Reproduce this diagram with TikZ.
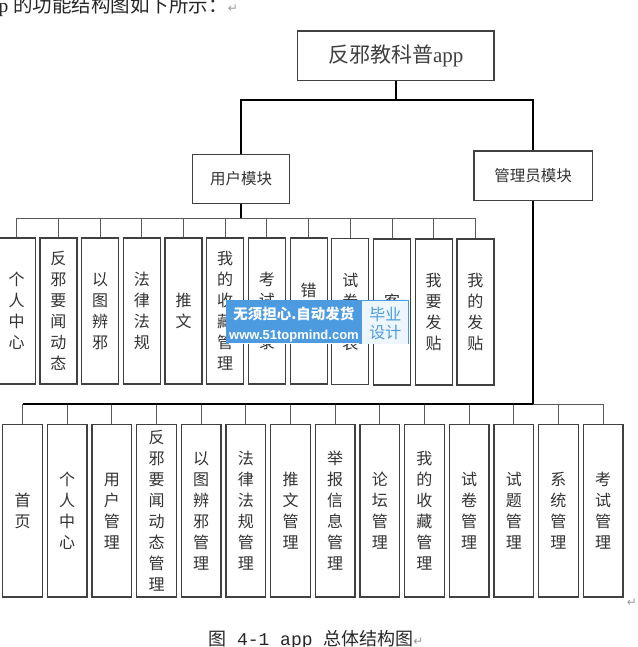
\documentclass[tikz,border=0pt]{standalone}
\usepackage{fontspec}
\newfontfamily\cjk{Noto Sans CJK SC}
\newfontfamily\lserif{Liberation Serif}
\newfontfamily\lmono{Liberation Mono}
\newfontfamily\lsans{Liberation Sans}
\newfontfamily\djv{DejaVu Sans}
\newcommand{\retmark}{{\djv\color{black!40}\fontsize{12}{12}\selectfont ↵}}
\definecolor{wmblue}{HTML}{4C9BE0}
\definecolor{wmlight}{HTML}{EEF6FD}
\tikzset{
  fbox/.style={draw=black!75,line width=1.2pt,fill=white,inner sep=0pt,align=center,text=black!80,font=\cjk\fontsize{16}{21}\selectfont},
  ubox/.style={fbox,minimum width=37pt,minimum height=146pt},
  abox/.style={fbox,minimum width=39.6pt,minimum height=172.3pt},
  mbox/.style={fbox,font=\cjk\fontsize{15.5}{18}\selectfont},
  thickline/.style={line width=2pt,black},
  thinline/.style={line width=1pt,black!65},
}
\begin{document}
\begin{tikzpicture}[x=1pt,y=-1pt]
\useasboundingbox (0,0) rectangle (637,647);
\node[anchor=base west,inner sep=0pt,text=black!85] (intro) at (-1.5,12.5) {{\lserif\fontsize{19.5}{20}\selectfont p\ }{\cjk\fontsize{19.5}{20}\selectfont 的功能结构图如下所示：}\retmark};
\node[fbox,minimum width=196.7pt,minimum height=49.3pt,text=black!75,font=\cjk\fontsize{21}{24}\selectfont] (app) at (395.7,55.6) {反邪教科普{\lserif app}};
\node[mbox,minimum width=96.6pt,minimum height=48.6pt] (user) at (241,179) {用户模块};
\node[mbox,minimum width=118.3pt,minimum height=49.3pt] (admin) at (533.2,175.7) {管理员模块};
\node[ubox] (u1) at (16.7,311) {个\\人\\中\\心};
\node[ubox] (u2) at (58.4,311) {反\\邪\\要\\闻\\动\\态};
\node[ubox] (u3) at (100.1,311) {以\\图\\辨\\邪};
\node[ubox] (u4) at (141.8,311) {法\\律\\法\\规};
\node[ubox] (u5) at (183.5,311) {推\\文};
\node[ubox] (u6) at (225.2,311) {我\\的\\收\\藏\\管\\理};
\node[ubox] (u7) at (266.9,311) {考\\试\\记\\录};
\node[ubox] (u8) at (308.6,311) {错\\题\\本};
\node[ubox] (u9) at (350.3,311.5) {试\\卷\\列\\表};
\node[ubox] (u10) at (392.0,312) {客\\服};
\node[ubox] (u11) at (433.7,312) {我\\要\\发\\贴};
\node[ubox] (u12) at (475.4,312) {我\\的\\发\\贴};
\node[abox] (a1) at (22.5,510.9) {首\\页};
\node[abox] (a2) at (67.2,510.9) {个\\人\\中\\心};
\node[abox] (a3) at (111.8,510.9) {用\\户\\管\\理};
\node[abox] (a4) at (156.5,510.9) {反\\邪\\要\\闻\\动\\态\\管\\理};
\node[abox] (a5) at (201.1,510.9) {以\\图\\辨\\邪\\管\\理};
\node[abox] (a6) at (245.8,510.9) {法\\律\\法\\规\\管\\理};
\node[abox] (a7) at (290.5,510.9) {推\\文\\管\\理};
\node[abox] (a8) at (335.1,510.9) {举\\报\\信\\息\\管\\理};
\node[abox] (a9) at (379.8,510.9) {论\\坛\\管\\理};
\node[abox] (a10) at (424.4,510.9) {我\\的\\收\\藏\\管\\理};
\node[abox] (a11) at (469.1,510.9) {试\\卷\\管\\理};
\node[abox] (a12) at (513.8,510.9) {试\\题\\管\\理};
\node[abox] (a13) at (558.4,510.9) {系\\统\\管\\理};
\node[abox] (a14) at (603.1,510.9) {考\\试\\管\\理};
\coordinate (ubus) at (241,218.3);
\coordinate (abus) at (533.2,404.3);
\draw[thinline] (ubus) -| (u1.north);
\draw[thinline] (ubus) -| (u2.north);
\draw[thinline] (ubus) -| (u3.north);
\draw[thinline] (ubus) -| (u4.north);
\draw[thinline] (ubus) -| (u5.north);
\draw[thinline] (ubus) -| (u6.north);
\draw[thinline] (ubus) -| (u7.north);
\draw[thinline] (ubus) -| (u8.north);
\draw[thinline] (ubus) -| (u9.north);
\draw[thinline] (ubus) -| (u10.north);
\draw[thinline] (ubus) -| (u11.north);
\draw[thinline] (ubus) -| (u12.north);
\draw[thinline] (abus) -| (a1.north);
\draw[thinline] (abus) -| (a2.north);
\draw[thinline] (abus) -| (a3.north);
\draw[thinline] (abus) -| (a4.north);
\draw[thinline] (abus) -| (a5.north);
\draw[thinline] (abus) -| (a6.north);
\draw[thinline] (abus) -| (a7.north);
\draw[thinline] (abus) -| (a8.north);
\draw[thinline] (abus) -| (a9.north);
\draw[thinline] (abus) -| (a10.north);
\draw[thinline] (abus) -| (a11.north);
\draw[thinline] (abus) -| (a12.north);
\draw[thinline] (abus) -| (a13.north);
\draw[thinline] (abus) -| (a14.north);
\draw[thickline] (app.south) -- ++(0,19) -| (user.north);
\draw[thickline] (app.south) -- ++(0,19) -| (admin.north);
\draw[thickline] (user.south) -- (ubus);
\draw[thickline] (admin.south) -- (abus);
\draw[thickline] (abus) -- (a1.north |- abus);
\node[fill=wmblue,minimum width=183pt,minimum height=44pt,inner sep=0pt] (wm) at (317.8,322) {};
\node[fill=wmlight,minimum width=46pt,minimum height=42.7pt,inner sep=0pt] (wmtag) at (385.3,322.3) {};
\node[text=white,inner sep=0pt,font=\cjk\bfseries\fontsize{14.5}{15}\selectfont] (wmtext) at (293.8,313.5) {无须担心.自动发货};
\node[text=white,inner sep=0pt,font=\lsans\bfseries\fontsize{13}{13}\selectfont] (wmurl) at (294,337) {\underline{www.51topmind.com}};
\node[text=wmblue,inner sep=0pt,align=center,font=\cjk\fontsize{16}{17.7}\selectfont] (wmtagtext) at (385.3,323.5) {毕业\\设计};
\node[anchor=base west,inner sep=0pt,text=black!85] (caption) at (208,645) {{\cjk\fontsize{18}{20}\selectfont 图}{\lmono\fontsize{18}{20}\selectfont\ 4-1 app\ }{\cjk\fontsize{18}{20}\selectfont 总体结构图}\retmark};
\node[inner sep=0pt] (endmark) at (632,603) {\retmark};
\end{tikzpicture}
\end{document}
